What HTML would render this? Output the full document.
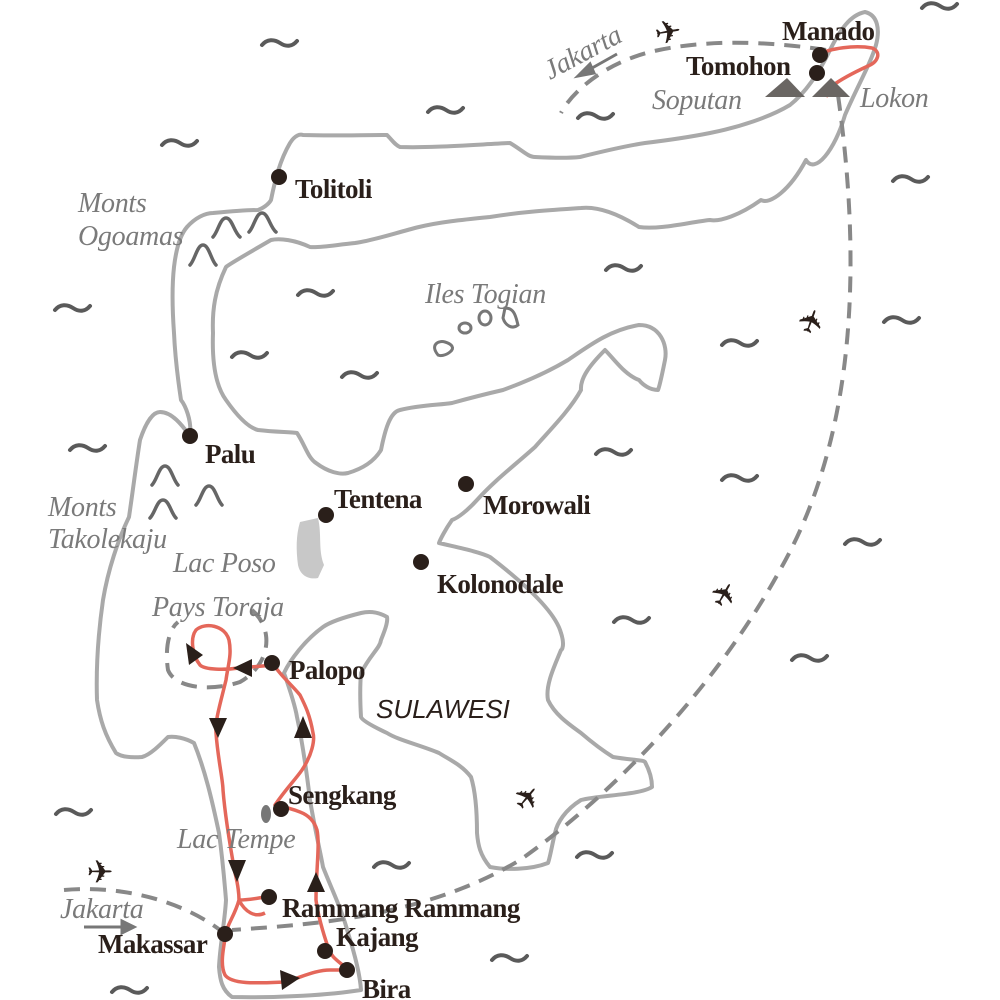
<!DOCTYPE html>
<html><head><meta charset="utf-8"><style>
html,body{margin:0;padding:0;background:#fff;width:1000px;height:1000px;overflow:hidden}
svg{display:block}
.lb{font-family:"Liberation Serif",serif;font-size:27px;fill:#2a1f1a;font-weight:bold;letter-spacing:-0.6px}
.gl{font-family:"Liberation Serif",serif;font-size:28px;fill:#7a7a7a;font-style:italic;letter-spacing:-0.3px}
.w{fill:none;stroke:#5a5a5a;stroke-width:4;stroke-linecap:round}
</style></head><body>
<svg width="1000" height="1000" viewBox="0 0 1000 1000" xmlns="http://www.w3.org/2000/svg">
<g fill="none" stroke="#a9a9a9" stroke-width="4" stroke-linejoin="round">
<path d="M865,12 C878,15 880,30 876,45 C870,65 858,85 845,115 C835,150 815,175 806,160 C790,190 770,205 761,200 C740,215 720,222 710,220 C690,222 660,230 639,227 C620,215 600,206 581,208 C550,210 520,212 490,217 C460,220 440,222 419,227 C395,233 375,240 355,243 C335,245 320,248 310,247 C295,240 280,238 271,240 C245,255 228,265 226,267 C215,290 212,310 213,333 C212,360 215,385 226,400 C240,420 250,428 258,430 C275,432 290,432 297,433 C305,445 308,458 316,463 C328,472 340,475 348,473 C365,468 375,460 381,450 C385,430 390,412 400,410 C420,405 440,405 452,403 C470,398 490,393 503,390 C525,382 548,372 568,360 C590,345 610,330 639,325 C660,325 668,345 665,360 C662,375 660,385 658,390 C650,390 643,385 639,380 C625,375 615,360 605,350 C590,365 580,378 581,390 C570,410 550,430 535,447 C515,465 495,480 477,500 C468,510 458,518 452,520 C445,530 440,540 439,543 C460,548 480,552 490,557 C520,580 555,610 561,633 C565,645 562,650 561,650 C555,665 545,685 548,700 C555,715 570,725 581,733 C595,745 605,752 613,757 C630,760 645,760 645,762 C652,775 652,785 652,787 C640,795 600,795 581,800 C565,810 557,823 555,833 C552,845 550,858 548,863 C530,870 505,870 490,867 C480,855 478,845 477,833 C477,810 475,790 471,777 C462,765 450,760 439,753 C420,745 398,740 387,733 C370,725 362,720 361,717 C360,700 360,685 361,673 C370,655 380,648 381,640 C385,630 388,622 387,617 C375,610 365,612 361,613 C345,617 330,622 323,627 C305,640 290,660 284,673 C290,690 295,705 297,717 C303,745 307,775 310,800 C315,830 320,850 323,867 C332,890 342,910 348,933 C355,955 360,975 361,990 C330,995 280,998 232,997 C222,990 220,980 219,967 C220,945 225,920 226,900 C224,875 222,855 219,833 C212,800 205,770 194,743 C185,738 175,736 168,737 C160,745 150,755 142,757 C128,758 120,756 116,753 C105,735 100,720 97,700 C96,670 98,635 103,600 C108,570 118,540 129,517 C133,490 136,465 140,440 C145,425 152,412 160,412 C172,412 182,425 190,436 C192,420 185,405 181,400 C178,380 175,355 174,333 C172,305 172,285 174,267 C176,250 180,235 187,227 C195,218 205,213 213,213 C235,211 250,210 258,210 C266,207 270,202 271,200 C275,180 280,160 290,143 C295,135 300,134 303,135 C330,136 360,135 387,135 C392,140 395,145 400,147 C430,148 470,145 510,143 C522,150 528,157 535,157 C555,158 570,158 580,157 C600,152 625,146 645,143 C670,140 690,137 710,133 C740,127 770,117 790,105 C805,93 818,75 830,50 C840,30 850,15 865,12 Z"/>
</g>
<path d="M300,522 L318,518 C322,535 318,550 324,565 L318,578 C308,580 300,575 298,565 C296,550 296,535 300,522 Z" fill="#c8c8c8"/>
<ellipse cx="266" cy="814" rx="5" ry="9" fill="#777"/>
<g fill="none" stroke="#777" stroke-width="3">
<path d="M438,355 C430,345 438,340 445,342 C452,344 455,348 450,352 C445,356 440,356 438,355Z"/>
<ellipse cx="465" cy="328" rx="6" ry="5"/>
<ellipse cx="485" cy="318" rx="6" ry="7"/>
<path d="M505,308 C515,308 516,318 518,325 C512,330 505,325 503,318 Z"/>
</g>
<g>
<path class="w" d="M0,0 c5,-6 12,-6 18,-2 c6,4 12,4 17,-2" transform="translate(262,45)"/>
<path class="w" d="M0,0 c5,-6 12,-6 18,-2 c6,4 12,4 17,-2" transform="translate(428,112)"/>
<path class="w" d="M0,0 c5,-6 12,-6 18,-2 c6,4 12,4 17,-2" transform="translate(578,118)"/>
<path class="w" d="M0,0 c5,-6 12,-6 18,-2 c6,4 12,4 17,-2" transform="translate(162,145)"/>
<path class="w" d="M0,0 c5,-6 12,-6 18,-2 c6,4 12,4 17,-2" transform="translate(922,8)"/>
<path class="w" d="M0,0 c5,-6 12,-6 18,-2 c6,4 12,4 17,-2" transform="translate(893,181)"/>
<path class="w" d="M0,0 c5,-6 12,-6 18,-2 c6,4 12,4 17,-2" transform="translate(606,270)"/>
<path class="w" d="M0,0 c5,-6 12,-6 18,-2 c6,4 12,4 17,-2" transform="translate(298,295)"/>
<path class="w" d="M0,0 c5,-6 12,-6 18,-2 c6,4 12,4 17,-2" transform="translate(55,310)"/>
<path class="w" d="M0,0 c5,-6 12,-6 18,-2 c6,4 12,4 17,-2" transform="translate(884,322)"/>
<path class="w" d="M0,0 c5,-6 12,-6 18,-2 c6,4 12,4 17,-2" transform="translate(722,345)"/>
<path class="w" d="M0,0 c5,-6 12,-6 18,-2 c6,4 12,4 17,-2" transform="translate(232,357)"/>
<path class="w" d="M0,0 c5,-6 12,-6 18,-2 c6,4 12,4 17,-2" transform="translate(342,377)"/>
<path class="w" d="M0,0 c5,-6 12,-6 18,-2 c6,4 12,4 17,-2" transform="translate(70,450)"/>
<path class="w" d="M0,0 c5,-6 12,-6 18,-2 c6,4 12,4 17,-2" transform="translate(596,454)"/>
<path class="w" d="M0,0 c5,-6 12,-6 18,-2 c6,4 12,4 17,-2" transform="translate(722,480)"/>
<path class="w" d="M0,0 c5,-6 12,-6 18,-2 c6,4 12,4 17,-2" transform="translate(845,544)"/>
<path class="w" d="M0,0 c5,-6 12,-6 18,-2 c6,4 12,4 17,-2" transform="translate(614,622)"/>
<path class="w" d="M0,0 c5,-6 12,-6 18,-2 c6,4 12,4 17,-2" transform="translate(792,660)"/>
<path class="w" d="M0,0 c5,-6 12,-6 18,-2 c6,4 12,4 17,-2" transform="translate(56,814)"/>
<path class="w" d="M0,0 c5,-6 12,-6 18,-2 c6,4 12,4 17,-2" transform="translate(374,867)"/>
<path class="w" d="M0,0 c5,-6 12,-6 18,-2 c6,4 12,4 17,-2" transform="translate(577,857)"/>
<path class="w" d="M0,0 c5,-6 12,-6 18,-2 c6,4 12,4 17,-2" transform="translate(492,960)"/>
<path class="w" d="M0,0 c5,-6 12,-6 18,-2 c6,4 12,4 17,-2" transform="translate(112,992)"/>
</g>
<g fill="none" stroke="#666" stroke-width="3.5" stroke-linecap="round">
<path d="M213,237 C218,232 220,218 226,218 C232,218 234,232 240,237"/>
<path d="M249,232 C254,227 256,213 262,213 C268,213 270,227 276,232"/>
<path d="M190,265 C195,260 197,245 203,245 C209,245 211,260 216,265"/>
<path d="M152,485 C157,480 159,466 165,466 C171,466 173,480 178,485"/>
<path d="M196,505 C201,500 203,486 209,486 C215,486 217,500 222,505"/>
<path d="M150,518 C155,513 157,500 163,500 C169,500 171,513 176,518"/>
</g>
<g fill="none" stroke="#888" stroke-width="4" stroke-dasharray="16,10">
<path d="M838,95 C860,250 860,430 780,570 C720,680 620,790 520,860 C420,920 300,925 232,930"/>
<path d="M826,50 C760,40 700,40 650,52 C600,65 570,95 561,113"/>
<path d="M64,890 C120,885 180,900 220,930"/>
<path d="M252,610 C275,630 270,665 240,682 C210,692 175,688 168,670 C165,650 168,630 178,622"/>
</g>
<g stroke="#777" stroke-width="3" fill="#777">
<line x1="617" y1="54" x2="585" y2="72"/><path d="M578,76 L590,64 L594,73 Z"/>
<line x1="84" y1="927" x2="126" y2="927"/><path d="M134,927 L122,921 L122,933 Z"/>
</g>
<g fill="none" stroke="#e4675a" stroke-width="3.5" stroke-linejoin="round">
<path d="M274,665 L239,668 C225,670 205,670 200,665 C192,655 190,638 196,630 C205,622 225,625 229,640 C232,655 228,665 226,680 C220,705 215,720 216,733 C218,760 223,780 223,790 C225,815 229,840 235,873 C238,885 239,895 239,900 C235,915 227,925 226,933 C223,950 220,965 225,975 C232,985 260,983 284,982 C300,978 315,970 330,970 L348,970 C340,962 332,958 329,950 C322,930 318,915 316,900 C316,870 320,845 317,830 C314,820 308,815 300,812 C290,808 280,806 275,805 C285,790 295,780 302,770 C312,755 315,740 313,733 C310,715 305,705 300,695 C290,683 280,675 274,665"/>
<path d="M239,900 C250,900 258,898 265,897 M239,900 C245,912 255,918 265,913"/>
<path d="M818,55 C830,48 855,45 872,48 C882,52 878,62 868,66 C855,72 840,80 832,86 C828,92 826,97 826,97"/>
</g>
<g fill="#2a1f1a">
<path d="M186,643 L203,655 L189,665 Z"/>
<path d="M233,668 L252,659 L252,677 Z"/>
<path d="M209,718 L227,718 L218,738 Z"/>
<path d="M294,738 L312,738 L303,716 Z"/>
<path d="M228,860 L246,860 L237,882 Z"/>
<path d="M307,892 L325,892 L316,872 Z"/>
<path d="M280,970 L300,978 L282,990 Z"/>
</g>
<g fill="#6a6663">
<path d="M765,97 L787,78 L805,97 Z"/>
<path d="M812,97 L831,78 L850,97 Z"/>
</g>
<g fill="#2a1f1a">
<circle cx="820" cy="55" r="8"/><circle cx="817" cy="73" r="8"/>
<circle cx="279" cy="177" r="8"/><circle cx="190" cy="436" r="8"/>
<circle cx="326" cy="515" r="8"/><circle cx="466" cy="484" r="8"/>
<circle cx="421" cy="562" r="8"/><circle cx="272" cy="663" r="8"/>
<circle cx="281" cy="809" r="8"/><circle cx="269" cy="897" r="8"/>
<circle cx="325" cy="951" r="8"/><circle cx="225" cy="934" r="8"/>
<circle cx="347" cy="970" r="8"/>
</g>
<g font-family="DejaVu Sans,sans-serif" font-size="32" fill="#2a1f1a" text-anchor="middle">
<text transform="translate(670,43) rotate(-10)">✈</text>
<text transform="translate(822,325) rotate(-70)">✈</text>
<text transform="translate(734,600) rotate(-60)">✈</text>
<text transform="translate(536,805) rotate(-50)">✈</text>
<text transform="translate(100,883)">✈</text>
</g>
<g class="lb">
<text x="782" y="40">Manado</text>
<text x="686" y="75">Tomohon</text>
<text x="295" y="198">Tolitoli</text>
<text x="205" y="463">Palu</text>
<text x="334" y="508">Tentena</text>
<text x="483" y="514">Morowali</text>
<text x="437" y="593">Kolonodale</text>
<text x="289" y="679">Palopo</text>
<text x="288" y="804">Sengkang</text>
<text x="282" y="917">Rammang Rammang</text>
<text x="336" y="946">Kajang</text>
<text x="98" y="953">Makassar</text>
<text x="362" y="998">Bira</text>
</g>
<g class="gl">
<text x="78" y="212">Monts</text>
<text x="78" y="245">Ogoamas</text>
<text x="425" y="303">Iles Togian</text>
<text x="48" y="516">Monts</text>
<text x="48" y="548">Takolekaju</text>
<text x="173" y="572">Lac Poso</text>
<text x="152" y="616">Pays Toraja</text>
<text x="177" y="848">Lac Tempe</text>
<text x="652" y="109">Soputan</text>
<text x="860" y="107">Lokon</text>
<text x="60" y="918">Jakarta</text>
<text transform="translate(550,80) rotate(-28)">Jakarta</text>
</g>
<text x="376" y="718" font-family="Liberation Sans,sans-serif" font-style="italic" font-size="26" fill="#2a1f1a">SULAWESI</text>
</svg>
</body></html>
